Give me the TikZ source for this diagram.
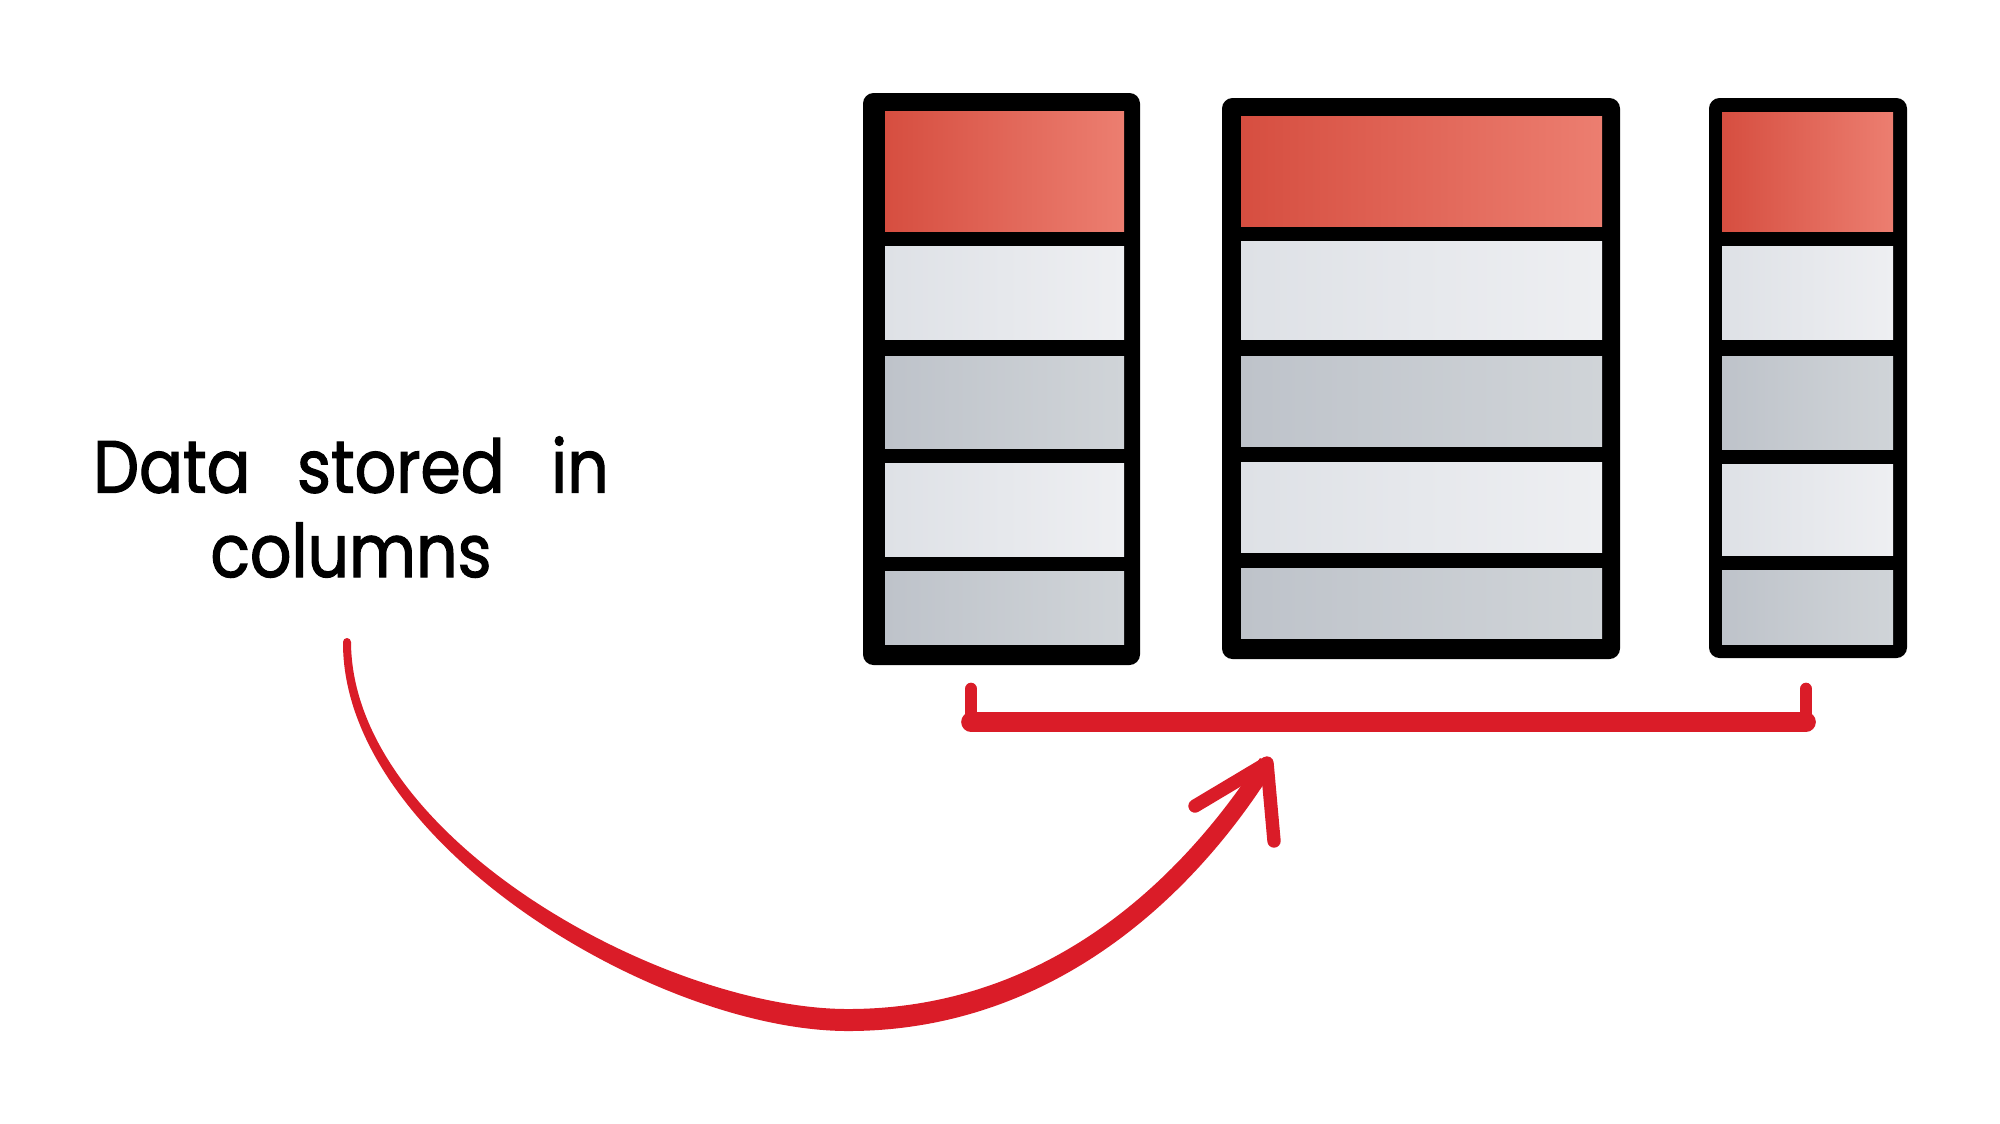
\documentclass[tikz,border=0pt]{standalone}
\usepackage{fontspec}
\setmainfont{Poppins}
\newfontfamily\labelfont[FakeStretch=0.88,FakeBold=1.6]{Poppins}
\newcommand\lblfont{\labelfont\fontsize{21}{24}\selectfont\spaceskip=0.63em plus 0.1em\relax}
\definecolor{bred}{RGB}{218,28,40}
\definecolor{redL}{RGB}{214,78,64}
\definecolor{redR}{RGB}{236,126,112}
\definecolor{lightL}{RGB}{222,225,230}
\definecolor{lightR}{RGB}{238,239,242}
\definecolor{darkL}{RGB}{190,195,202}
\definecolor{darkR}{RGB}{208,212,216}
\begin{document}
\begin{tikzpicture}[x=0.01cm,y=-0.01cm,
  colframe/.style={fill=black, rounded corners=3pt},
  redcell/.style={left color=redL, right color=redR},
  lightcell/.style={left color=lightL, right color=lightR},
  darkcell/.style={left color=darkL, right color=darkR},
  bracketbar/.style={draw=bred, line width=5.6pt, line cap=round},
  brackettick/.style={draw=bred, line width=3.6pt, line cap=round},
  arrowbody/.style={fill=bred},
  arrowwing/.style={draw=bred, line width=3.8pt, line cap=round, line join=round},
  labeltext/.style={font=\lblfont, align=center, inner sep=0pt}]
\useasboundingbox[fill=white] (0,0) rectangle (2000,1123);

% column 1
\fill[colframe] (863,93) rectangle (1140,665);
\shade[redcell]   (885,111) rectangle (1124,231);
\shade[lightcell] (885,246) rectangle (1124,339);
\shade[darkcell]  (885,356) rectangle (1124,448);
\shade[lightcell] (885,463) rectangle (1124,556);
\shade[darkcell]  (885,571) rectangle (1124,644);

% column 2
\fill[colframe] (1222,98) rectangle (1620,659);
\shade[redcell]   (1241,116) rectangle (1602,226);
\shade[lightcell] (1241,241) rectangle (1602,339);
\shade[darkcell]  (1241,356) rectangle (1602,446);
\shade[lightcell] (1241,462) rectangle (1602,552);
\shade[darkcell]  (1241,568) rectangle (1602,638);

% column 3
\fill[colframe] (1709,98) rectangle (1907,658);
\shade[redcell]   (1722,112) rectangle (1893,231);
\shade[lightcell] (1722,246) rectangle (1893,339);
\shade[darkcell]  (1722,356) rectangle (1893,449);
\shade[lightcell] (1722,464) rectangle (1893,555);
\shade[darkcell]  (1722,570) rectangle (1893,644);

% label
\node[labeltext, anchor=base] (label) at (351,577) {Data stored in\\columns};

% bracket
\coordinate (bl) at (971,689);
\coordinate (blc) at (971,722);
\coordinate (brc) at (1806,722);
\coordinate (br) at (1806,689);
\draw[brackettick] (bl) -- (blc);
\draw[brackettick] (br) -- (brc);
\draw[bracketbar] (blc) -- (brc);

% curved arrow (tapered body)
\coordinate (astart) at (347,642);
\coordinate (abottom) at (848,1020);
\coordinate (atip) at (1267,763);
\coordinate (wingL) at (1195,806);
\coordinate (wingR) at (1274,841);
\fill[arrowbody] (343,642) .. controls (342,842) and (656,1031) .. (848,1031)
  .. controls (1044,1031) and (1188,906) .. (1274,768)
  -- (1260,758) .. controls (1172,894) and (1036,1009) .. (848,1009)
  .. controls (664,1009) and (352,838) .. (351,642) -- cycle;
\fill[arrowbody] (astart) circle[radius=0.4mm];
\draw[arrowwing] (wingL) -- (atip) -- (wingR);
\end{tikzpicture}
\end{document}
